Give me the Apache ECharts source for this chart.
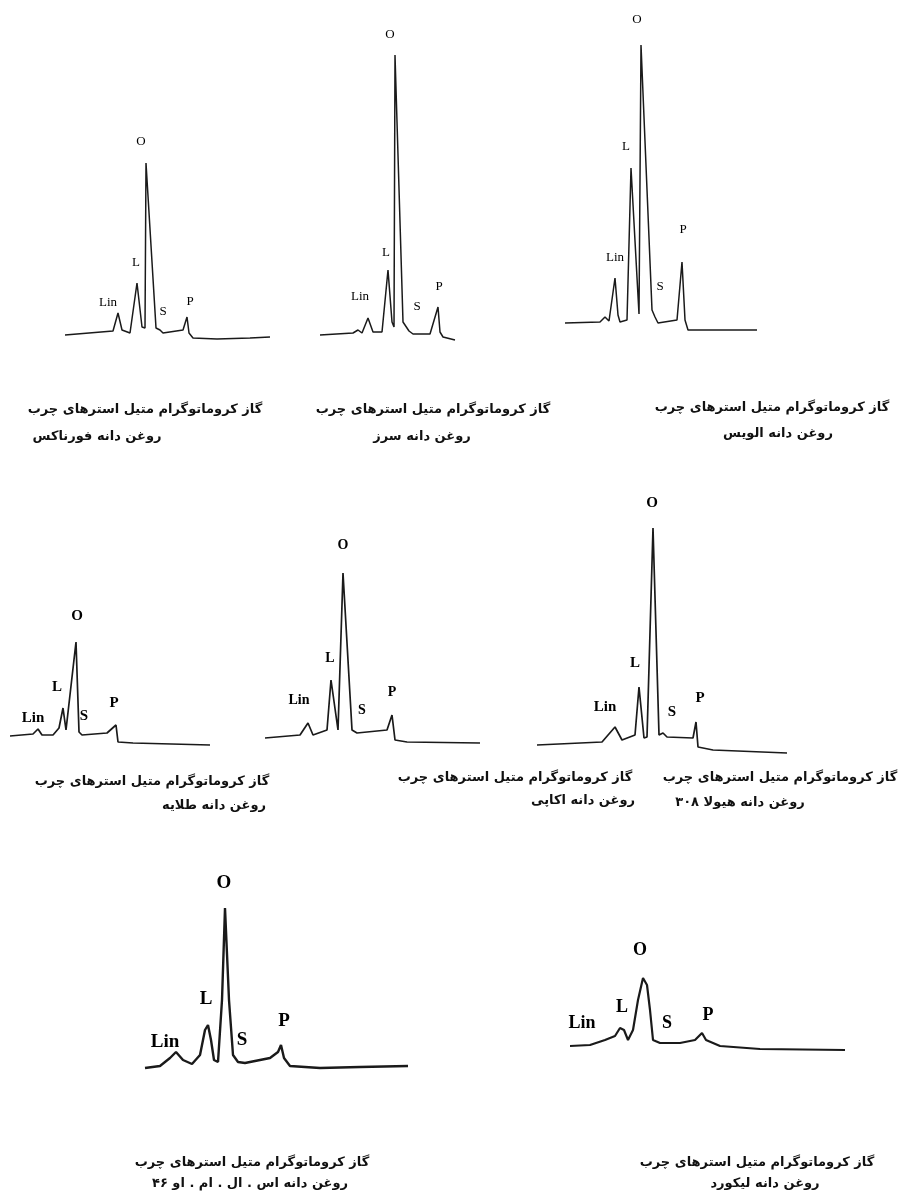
<!DOCTYPE html>
<html>
<head>
<meta charset="utf-8">
<script src="https://cdn.jsdelivr.net/npm/echarts@6/dist/echarts.min.js"></script>
<style>
  html, body { margin: 0; padding: 0; background: #fff; }
  #main { width: 914px; height: 1192px; }
</style>
</head>
<body>
<div id="main"></div>
<script>
// retention time / detector response, one trace per oil
const fornaxTrace = [[5,10],[53,14],[58,32],[62,15],[70,12],[77,62],[82,18],[85,17],[86,182],[96,17],[100,15],[103,12],[123,15],[127,28],[129,12],[133,7],[157,6],[190,7],[210,8]]
const fornaxPeaks = [['O',81,203],['L',76,82],['Lin',48,42],['S',103,33],['P',130,43]]

const sarzTrace = [[10,10],[43,12],[48,15],[52,12],[58,27],[63,13],[72,13],[78,75],[82,23],[84,18],[85,290],[93,23],[99,14],[103,11],[120,11],[128,38],[130,13],[133,8],[145,5]]
const sarzPeaks = [['O',80,310],['L',76,92],['Lin',50,48],['S',107,38],['P',129,58]]

const alvisTrace = [[10,17],[45,18],[50,23],[54,19],[60,62],[63,25],[65,18],[72,20],[76,172],[84,26],[86,295],[97,30],[100,23],[103,17],[122,20],[127,78],[130,20],[133,10],[202,10]]
const alvisPeaks = [['O',82,320],['L',71,193],['Lin',60,82],['S',105,53],['P',128,110]]

const talayehTrace = [[5,14],[28,16],[33,21],[37,15],[48,15],[54,22],[58,42],[61,20],[63,20],[71,108],[74,18],[77,15],[102,17],[111,25],[113,8],[128,7],[205,5]]
const talayehPeaks = [['O',72,134],['L',52,63],['Lin',28,32],['S',79,34],['P',109,47]]

const akapiTrace = [[5,12],[40,15],[48,27],[53,15],[67,20],[71,70],[78,20],[80,20],[83,177],[92,20],[97,17],[127,20],[132,35],[135,10],[147,8],[220,7]]
const akapiPeaks = [['O',83,205],['L',70,92],['Lin',39,50],['S',102,40],['P',132,58]]

const hyolaTrace = [[7,15],[72,18],[85,33],[92,20],[105,25],[109,73],[114,22],[117,23],[123,232],[129,25],[133,27],[137,23],[163,22],[166,38],[168,13],[183,10],[257,7]]
const hyolaPeaks = [['O',122,257],['L',105,97],['Lin',75,53],['S',142,48],['P',170,62]]

const slmTrace = [[5,7],[20,9],[30,17],[36,23],[43,15],[52,11],[60,20],[65,45],[68,50],[71,35],[74,15],[78,13],[82,75],[85,167],[89,75],[93,20],[98,13],[105,12],[130,17],[138,23],[141,30],[144,17],[150,9],[180,7],[220,8],[268,9]]
const slmPeaks = [['O',84,192],['L',66,76],['Lin',25,33],['S',102,35],['P',144,54]]

const likordTrace = [[5,14],[25,15],[40,20],[50,24],[55,32],[59,30],[63,20],[68,30],[73,60],[78,82],[82,75],[85,50],[88,20],[95,17],[115,17],[130,20],[137,27],[141,20],[155,14],[195,11],[280,10]]
const likordPeaks = [['O',75,110],['L',57,53],['Lin',17,37],['S',102,37],['P',143,45]]

const titleLine = 'گاز کروماتوگرام متیل استرهای چرب'
const oilNames = ['روغن دانه فورناکس', 'روغن دانه سرز', 'روغن دانه الویس', 'روغن دانه طلایه', 'روغن دانه اکاپی', 'روغن دانه هیولا ۳۰۸', 'روغن دانه اس . ال . ام . او ۴۶', 'روغن دانه لیکورد']

// panel boxes (px) + styles
const panels = [
  { trace: fornaxTrace, peaks: fornaxPeaks, box: [60, 130, 220, 215], lw: 1.5, fs: 13, cap: [145, 410, 97, 437] },
  { trace: sarzTrace, peaks: sarzPeaks, box: [310, 20, 160, 325], lw: 1.5, fs: 13, cap: [433, 410, 422, 437] },
  { trace: alvisTrace, peaks: alvisPeaks, box: [555, 5, 215, 335], lw: 1.5, fs: 13, cap: [772, 408, 778, 434] },
  { trace: talayehTrace, peaks: talayehPeaks, box: [5, 600, 210, 150], lw: 1.7, fs: 15, cap: [152, 782, 214, 806] },
  { trace: akapiTrace, peaks: akapiPeaks, box: [260, 535, 225, 215], lw: 1.7, fs: 14, cap: [515, 778, 583, 801] },
  { trace: hyolaTrace, peaks: hyolaPeaks, box: [530, 495, 265, 265], lw: 1.7, fs: 15, cap: [780, 778, 740, 803] },
  { trace: slmTrace, peaks: slmPeaks, box: [140, 870, 275, 205], lw: 2.4, fs: 19, cap: [252, 1163, 250, 1184] },
  { trace: likordTrace, peaks: likordPeaks, box: [565, 940, 285, 120], lw: 2.2, fs: 18, cap: [757, 1163, 765, 1184] }
]

const chart = echarts.init(document.getElementById('main'))

let grid = [], xAxis = [], yAxis = [], series = [], graphic = []
panels.forEach((p, i) => {
  const [l, t, w, h] = p.box
  grid.push({ left: l, top: t, width: w, height: h })
  xAxis.push({ type: 'value', gridIndex: i, min: 0, max: w, show: false })
  yAxis.push({ type: 'value', gridIndex: i, min: 0, max: h, show: false })
  series.push({
    type: 'line',
    xAxisIndex: i,
    yAxisIndex: i,
    data: p.trace,
    showSymbol: false,
    silent: true,
    lineStyle: { color: '#1a1a1a', width: p.lw }
  })
  series.push({
    type: 'scatter',
    xAxisIndex: i,
    yAxisIndex: i,
    symbolSize: 0,
    silent: true,
    itemStyle: { opacity: 1 },
    data: p.peaks.map(d => ({ value: [d[1], d[2]], name: d[0] })),
    label: {
      show: true,
      position: 'inside',
      formatter: '{b}',
      color: '#000',
      textBorderWidth: 0,
      fontFamily: 'Liberation Serif',
      fontWeight: i >= 3 ? 'bold' : 'normal',
      fontSize: p.fs
    }
  })
  const c = p.cap
  graphic.push({
    type: 'text', x: c[0], y: c[1],
    style: { text: titleLine, align: 'center', verticalAlign: 'middle', font: 'bold 13px "DejaVu Sans"', fill: '#111' }
  })
  graphic.push({
    type: 'text', x: c[2], y: c[3],
    style: { text: oilNames[i], align: 'center', verticalAlign: 'middle', font: 'bold 13px "DejaVu Sans"', fill: '#111' }
  })
})

chart.setOption({
  animation: false,
  backgroundColor: '#fff',
  grid: grid,
  xAxis: xAxis,
  yAxis: yAxis,
  series: series,
  graphic: graphic
})
</script>
</body>
</html>
